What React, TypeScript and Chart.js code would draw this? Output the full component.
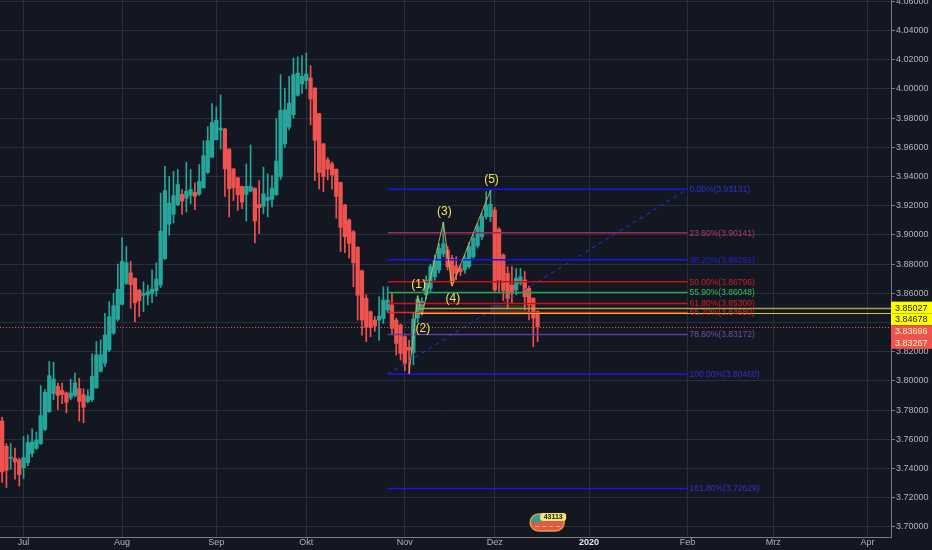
import { useEffect, useRef } from "react";
import { Chart, registerables } from "chart.js";

Chart.register(...registerables);

// trading days (Mon-Fri) shown on the time axis
const firstDay = "2019-06-24";
const lastDay = "2020-04-08";

const dates: string[] = [];
for (let d = new Date(firstDay + "T00:00:00Z"); d <= new Date(lastDay + "T00:00:00Z"); d.setUTCDate(d.getUTCDate() + 1)) {
    const wd = d.getUTCDay();
    if (wd !== 0 && wd !== 6) dates.push(d.toISOString().slice(0, 10));
}

const monthTicks: Record<string, string> = {
    "2019-07-01": "Jul",
    "2019-08-01": "Aug",
    "2019-09-02": "Sep",
    "2019-10-01": "Okt",
    "2019-11-01": "Nov",
    "2019-12-02": "Dez",
    "2020-01-01": "2020",
    "2020-02-03": "Feb",
    "2020-03-02": "Mrz",
    "2020-04-01": "Apr",
};

const yTicks = [3.70, 3.72, 3.74, 3.76, 3.78, 3.80, 3.82, 3.84, 3.86, 3.88, 3.90, 3.92, 3.94, 3.96, 3.98, 4.00, 4.02, 4.04, 4.06];

// daily candles from 2019-06-24
const opens = [
    3.7725, 3.7552, 3.7470, 3.7470, 3.7459, 3.7406, 3.7441, 3.7504, 3.7538, 3.7570,
    3.7668, 3.7790, 3.7913, 3.7963, 3.7934, 3.7918, 3.7884, 3.7900, 3.7947, 3.7906,
    3.7859, 3.7872, 3.7952, 3.8066, 3.8122, 3.8213, 3.8327, 3.8422, 3.8525, 3.8668,
    3.8740, 3.8704, 3.8622, 3.8586, 3.8588, 3.8600, 3.8618, 3.8657, 3.8838, 3.9073,
    3.9141, 3.9207, 3.9277, 3.9252, 3.9270, 3.9291, 3.9279, 3.9323, 3.9429, 3.9532,
    3.9652, 3.9718, 3.9725, 3.9588, 3.9452, 3.9391, 3.9332, 3.9277, 3.9300, 3.9320,
    3.9209, 3.9195, 3.9236, 3.9243, 3.9277, 3.9400, 3.9624, 3.9738, 3.9823, 3.9956,
    4.0034, 4.0057, 4.0075, 4.0006, 3.9830, 3.9624, 3.9514, 3.9487, 3.9450, 3.9359,
    3.9205, 3.9102, 3.9022, 3.8915, 3.8755, 3.8565, 3.8474, 3.8417, 3.8417, 3.8428,
    3.8486, 3.8520, 3.8417, 3.8383, 3.8303, 3.8230, 3.8195, 3.8430, 3.8510, 3.8590,
    3.8635, 3.8714, 3.8760, 3.8870, 3.8897, 3.8840, 3.8787, 3.8767, 3.8760, 3.8783,
    3.8851, 3.8925, 3.8988, 3.9125, 3.9125, 3.9171, 3.9039, 3.8863, 3.8737, 3.8657,
    3.8623, 3.8669, 3.8692, 3.8634, 3.8566, 3.8475,
];
const highs = [
    3.7750, 3.7570, 3.7572, 3.7540, 3.7470, 3.7620, 3.7630, 3.7672, 3.7650, 3.7968,
    3.7940, 3.8134, 3.8129, 3.7986, 3.7986, 3.7925, 3.8013, 3.8054, 3.8018, 3.7947,
    3.7940, 3.8186, 3.8270, 3.8281, 3.8463, 3.8543, 3.8600, 3.8800, 3.8980, 3.8920,
    3.8820, 3.8705, 3.8625, 3.8679, 3.8656, 3.8759, 3.8809, 3.9286, 3.9470, 3.9400,
    3.9436, 3.9448, 3.9311, 3.9498, 3.9448, 3.9357, 3.9482, 3.9645, 3.9741, 3.9900,
    3.9877, 3.9960, 3.9730, 3.9590, 3.9455, 3.9395, 3.9335, 3.9486, 3.9616, 3.9322,
    3.9373, 3.9464, 3.9418, 3.9407, 3.9796, 4.0098, 4.0002, 4.0086, 4.0212, 4.0219,
    4.0228, 4.0246, 4.0159, 4.0008, 3.9832, 3.9626, 3.9530, 3.9500, 3.9452, 3.9360,
    3.9210, 3.9110, 3.9030, 3.8920, 3.8760, 3.8590, 3.8480, 3.8440, 3.8576, 3.8645,
    3.8645, 3.8600, 3.8430, 3.8390, 3.8310, 3.8280, 3.8470, 3.8585, 3.8570, 3.8720,
    3.8800, 3.8860, 3.8940, 3.9087, 3.8920, 3.8860, 3.8851, 3.8790, 3.8863, 3.8950,
    3.9000, 3.9080, 3.9150, 3.9296, 3.9313, 3.9190, 3.9050, 3.8870, 3.8783, 3.8783,
    3.8770, 3.8771, 3.8750, 3.8650, 3.8570, 3.8480,
];
const lows = [
    3.7304, 3.7270, 3.7395, 3.7327, 3.7280, 3.7330, 3.7420, 3.7480, 3.7531, 3.7565,
    3.7660, 3.7785, 3.7872, 3.7804, 3.7845, 3.7781, 3.7870, 3.7890, 3.7725, 3.7713,
    3.7850, 3.7860, 3.7950, 3.8060, 3.8100, 3.8200, 3.8320, 3.8410, 3.8520, 3.8660,
    3.8497, 3.8406, 3.8441, 3.8475, 3.8520, 3.8536, 3.8581, 3.8640, 3.8830, 3.8998,
    3.9082, 3.9200, 3.9141, 3.9157, 3.9213, 3.9173, 3.9270, 3.9320, 3.9420, 3.9530,
    3.9650, 3.9588, 3.9264, 3.9123, 3.9236, 3.9168, 3.9180, 3.9095, 3.9295, 3.8945,
    3.9009, 3.9145, 3.9123, 3.9191, 3.9270, 3.9380, 3.9600, 3.9720, 3.9800, 3.9950,
    3.9970, 4.0000, 3.9754, 3.9372, 3.9313, 3.9297, 3.9377, 3.9313, 3.9114, 3.8885,
    3.8878, 3.8840, 3.8645, 3.8416, 3.8313, 3.8269, 3.8303, 3.8340, 3.8278, 3.8393,
    3.8470, 3.8320, 3.8177, 3.8143, 3.8070, 3.8046, 3.8110, 3.8400, 3.8486, 3.8560,
    3.8610, 3.8690, 3.8740, 3.8850, 3.8760, 3.8650, 3.8692, 3.8720, 3.8737, 3.8770,
    3.8840, 3.8910, 3.8970, 3.9110, 3.9091, 3.8612, 3.8612, 3.8550, 3.8500, 3.8530,
    3.8590, 3.8657, 3.8486, 3.8418, 3.8235, 3.8269,
];
const closes = [
    3.7377, 3.7388, 3.7478, 3.7445, 3.7359, 3.7475, 3.7577, 3.7582, 3.7595, 3.7763,
    3.7922, 3.8036, 3.8013, 3.7900, 3.7907, 3.7854, 3.7918, 3.7986, 3.7859, 3.7820,
    3.7895, 3.8031, 3.8179, 3.8179, 3.8315, 3.8440, 3.8515, 3.8627, 3.8818, 3.8809,
    3.8659, 3.8536, 3.8550, 3.8600, 3.8611, 3.8629, 3.8698, 3.9025, 3.9304, 3.9218,
    3.9270, 3.9345, 3.9232, 3.9300, 3.9311, 3.9264, 3.9366, 3.9543, 3.9645, 3.9770,
    3.9786, 3.9732, 3.9452, 3.9316, 3.9323, 3.9275, 3.9225, 3.9332, 3.9332, 3.9095,
    3.9186, 3.9282, 3.9259, 3.9320, 3.9505, 3.9853, 3.9857, 3.9903, 4.0098, 4.0109,
    4.0086, 4.0102, 3.9931, 3.9647, 3.9427, 3.9400, 3.9450, 3.9411, 3.9263, 3.9052,
    3.8988, 3.8942, 3.8809, 3.8587, 3.8417, 3.8367, 3.8367, 3.8376, 3.8444, 3.8554,
    3.8554, 3.8360, 3.8257, 3.8189, 3.8120, 3.8210, 3.8424, 3.8560, 3.8545, 3.8692,
    3.8783, 3.8829, 3.8908, 3.8940, 3.8783, 3.8669, 3.8737, 3.8749, 3.8840, 3.8920,
    3.8977, 3.9057, 3.9125, 3.9205, 3.9210, 3.8623, 3.8692, 3.8619, 3.8566, 3.8600,
    3.8703, 3.8714, 3.8577, 3.8520, 3.8429, 3.83696,
];

// fibonacci retracement
const fibStart = "2019-10-28";
const fibEnd = "2020-02-03";
const fibRatios = ["0.00", "23.60", "38.20", "50.00", "55.90", "61.80", "66.70", "78.60", "100.00", "161.80"];
const fibValues = [3.93131, 3.90141, 3.88291, 3.86796, 3.86048, 3.85300, 3.84680, 3.83172, 3.80460, 3.72629];
const fibLineColors = ["#1414f0", "#9c2b5f", "#1414f0", "#cc1010", "#26a84a", "#d41010", "#ff1c1c", "#5e3f9e", "#1414f0", "#1a1ad8"];
const fibTextColors = ["#3030d0", "#b13d6e", "#2424c8", "#c82020", "#30c058", "#d42020", "#e03030", "#6c54ac", "#3030d0", "#3030d0"];

// elliott wave count
const waveDates = ["2019-11-04", "2019-11-06", "2019-11-07", "2019-11-14", "2019-11-18", "2019-11-29"];
const wavePrices = [3.8047, 3.8581, 3.8450, 3.9087, 3.8650, 3.9303];
const waveNames = ["", "(1)", "(2)", "(3)", "(4)", "(5)"];
const waveAbove = [false, true, false, true, false, true];

// horizontal rays and axis price tags
const rayStart = "2019-11-06";
const rayPrices = [3.85027, 3.84678];
const lastPrice = 3.83696;
const axisTags = [
    { value: 3.85027, bg: "#ffff00", fg: "#131722" },
    { value: 3.84678, bg: "#ffff00", fg: "#131722" },
    { value: 3.83696, bg: "#ef5350", fg: "#fff2b0" },
    { value: 3.83267, bg: "#ef5350", fg: "#fff2b0" },
];

const boxDates = ["2019-11-29", "2019-12-12"];
const boxPrices = [3.8453, 3.8521];
const badgeDate = "2019-12-18";
const badgeText = "43113";

const bg = "#131722";
const gridColor = "#2a2e39";
const axisColor = "#787b86";
const textColor = "#b2b5be";
const upColor = "#26a69a";
const downColor = "#ef5350";
const font = "'Liberation Sans', Arial, sans-serif";

const candleColors = opens.map((o, i) => (closes[i] >= o ? upColor : downColor));

const overlay = {
    id: "overlay",
    beforeDraw(chart: any) {
        const { ctx, width, height } = chart;
        ctx.save();
        ctx.fillStyle = bg;
        ctx.fillRect(0, 0, width, height);
        ctx.restore();
    },
    beforeDatasetsDraw(chart: any) {
        const { ctx } = chart;
        const xs = chart.scales.x;
        const ys = chart.scales.y;
        const x1 = xs.getPixelForValue(dates.indexOf(boxDates[0]));
        const x2 = xs.getPixelForValue(dates.indexOf(boxDates[1]));
        const y1 = ys.getPixelForValue(boxPrices[1]);
        const y2 = ys.getPixelForValue(boxPrices[0]);
        ctx.save();
        ctx.fillStyle = "rgba(130,105,70,0.28)";
        ctx.fillRect(x1, y1, x2 - x1, y2 - y1);
        ctx.restore();
    },
    afterDatasetsDraw(chart: any) {
        const { ctx, chartArea } = chart;
        const xs = chart.scales.x;
        const ys = chart.scales.y;
        ctx.save();
        const rx = xs.getPixelForValue(dates.indexOf(rayStart));
        rayPrices.forEach((p, i) => {
            const y = Math.round(ys.getPixelForValue(p)) + 0.5;
            ctx.strokeStyle = i === 0 ? "#a3a348" : "#cfc93c";
            ctx.lineWidth = i === 0 ? 1.5 : 1;
            ctx.beginPath();
            ctx.moveTo(rx, y);
            ctx.lineTo(chartArea.right, y);
            ctx.stroke();
        });
        const py = Math.round(ys.getPixelForValue(lastPrice)) + 0.5;
        ctx.strokeStyle = downColor;
        ctx.lineWidth = 1;
        ctx.setLineDash([1, 2]);
        ctx.beginPath();
        ctx.moveTo(chartArea.left, py);
        ctx.lineTo(chartArea.right, py);
        ctx.stroke();
        ctx.restore();
    },
    afterDraw(chart: any) {
        const { ctx, chartArea, width } = chart;
        const xs = chart.scales.x;
        const ys = chart.scales.y;
        ctx.save();

        // fib level texts
        const fx = xs.getPixelForValue(dates.indexOf(fibEnd)) + 2;
        ctx.font = `8.5px ${font}`;
        ctx.textAlign = "left";
        ctx.textBaseline = "middle";
        fibValues.forEach((v, i) => {
            ctx.fillStyle = fibTextColors[i];
            ctx.fillText(`${fibRatios[i]}%(${v.toFixed(5)})`, fx, ys.getPixelForValue(v) + 0.5);
        });

        // wave labels
        ctx.font = `12px ${font}`;
        ctx.textAlign = "center";
        ctx.fillStyle = "#f2e35a";
        waveNames.forEach((name, i) => {
            if (!name) return;
            const x = xs.getPixelForValue(dates.indexOf(waveDates[i]));
            const y = ys.getPixelForValue(wavePrices[i]) + (waveAbove[i] ? -11 : 13);
            ctx.fillText(name, x + 1, y);
        });

        // price tags on the axis
        ctx.font = `9px ${font}`;
        ctx.textAlign = "left";
        const h = 11.8;
        let prev = -Infinity;
        axisTags.forEach((t) => {
            const cy = Math.max(ys.getPixelForValue(t.value), prev + h);
            prev = cy;
            ctx.fillStyle = t.bg;
            ctx.fillRect(chartArea.right, cy - h / 2, width - chartArea.right, h);
            ctx.fillStyle = t.fg;
            ctx.fillText(t.value.toFixed(5), chartArea.right + 4, cy + 0.5);
        });

        // event badge
        const bx = xs.getPixelForValue(dates.indexOf(badgeDate)) + 1;
        const by = chartArea.bottom - 15;
        ctx.beginPath();
        ctx.roundRect(bx - 17, by - 8, 34, 17, 8.5);
        ctx.fillStyle = "#e0584a";
        ctx.fill();
        ctx.save();
        ctx.clip();
        ctx.fillStyle = "#2aa198";
        ctx.fillRect(bx - 17, by - 8, 12, 8);
        ctx.fillStyle = "#f3c443";
        for (let k = 0; k < 4; k++) ctx.fillRect(bx - 12 + k * 7, by + 4, 4, 1);
        ctx.restore();
        ctx.strokeStyle = "#e0a040";
        ctx.lineWidth = 1.5;
        ctx.stroke();
        ctx.beginPath();
        ctx.roundRect(bx - 7, by - 9, 26, 8, 3);
        ctx.fillStyle = "#f5e66a";
        ctx.fill();
        ctx.font = `bold 7px ${font}`;
        ctx.fillStyle = "#131722";
        ctx.textAlign = "center";
        ctx.fillText(badgeText, bx + 6, by - 4.5);

        ctx.restore();
    },
};

const App: React.FC = () => {
    const chartRef = useRef<HTMLCanvasElement>(null);

    useEffect(() => {
        if (!chartRef.current) return;
        const ctx = chartRef.current.getContext("2d");
        if (!ctx) return;

        const fibDatasets = fibValues.map((v, i) => ({
            type: "line" as const,
            data: [{ x: fibStart, y: v }, { x: fibEnd, y: v }],
            borderColor: fibLineColors[i],
            borderWidth: 1.5,
            pointRadius: 0,
            order: -1,
        }));

        const chart = new Chart(ctx, {
            type: "bar",
            data: {
                labels: dates,
                datasets: [
                    {
                        data: lows.map((l, i) => [l, highs[i]]),
                        backgroundColor: candleColors,
                        barThickness: 1,
                        grouped: false,
                        order: 2,
                    },
                    {
                        data: opens.map((o, i) => [o, closes[i]]),
                        backgroundColor: candleColors,
                        barThickness: 3.6,
                        minBarLength: 1,
                        grouped: false,
                        order: 1,
                    },
                    ...fibDatasets,
                    {
                        type: "line",
                        data: [{ x: fibStart, y: fibValues[8] }, { x: fibEnd, y: fibValues[0] }],
                        borderColor: "#2a35d8",
                        borderWidth: 1,
                        borderDash: [4, 4],
                        pointRadius: 0,
                        order: -1,
                    },
                    {
                        type: "line",
                        data: waveDates.map((d, i) => ({ x: d, y: wavePrices[i] })),
                        borderColor: "rgba(205,195,85,0.85)",
                        borderWidth: 1,
                        pointRadius: 0,
                        order: -2,
                    },
                ] as any,
            },
            options: {
                animation: false,
                responsive: true,
                maintainAspectRatio: false,
                events: [],
                layout: { padding: 0, autoPadding: false },
                plugins: {
                    legend: { display: false },
                    tooltip: { enabled: false },
                },
                scales: {
                    x: {
                        type: "category",
                        offset: true,
                        grid: {
                            offset: false,
                            drawTicks: false,
                            color: (c: any) => (c.tick && c.tick.label ? gridColor : "rgba(0,0,0,0)"),
                        },
                        border: { color: axisColor },
                        ticks: {
                            autoSkip: false,
                            maxRotation: 0,
                            padding: 0,
                            callback: (_v: any, i: number) => monthTicks[dates[i]] ?? null,
                            color: (c: any) => (c.tick && c.tick.label === "2020" ? "#e6e8ee" : textColor),
                            font: (c: any) => ({
                                family: font,
                                size: 9,
                                weight: c.tick && c.tick.label === "2020" ? "bold" : "normal",
                            }),
                        },
                        afterFit: (s: any) => {
                            s.height = 13;
                            s.paddingLeft = 0;
                            s.paddingRight = 0;
                        },
                    },
                    y: {
                        position: "right",
                        min: 3.6931,
                        max: 4.0609,
                        afterBuildTicks: (s: any) => {
                            s.ticks = yTicks.map((v) => ({ value: v }));
                        },
                        grid: { color: gridColor, tickLength: 4, tickColor: axisColor },
                        border: { color: axisColor },
                        ticks: {
                            padding: 1,
                            color: textColor,
                            font: { family: font, size: 9 },
                            callback: (v: any) => Number(v).toFixed(5),
                        },
                        afterFit: (s: any) => {
                            s.width = 41;
                            s.paddingTop = 0;
                            s.paddingBottom = 0;
                        },
                    },
                },
            },
            plugins: [overlay],
        });

        return () => {
            chart.destroy();
        };
    }, []);

    return (
        <div style={{ position: "fixed", left: 0, top: 0, width: 932, height: 550, background: bg }}>
            <canvas ref={chartRef}></canvas>
        </div>
    );
};

export default App;
